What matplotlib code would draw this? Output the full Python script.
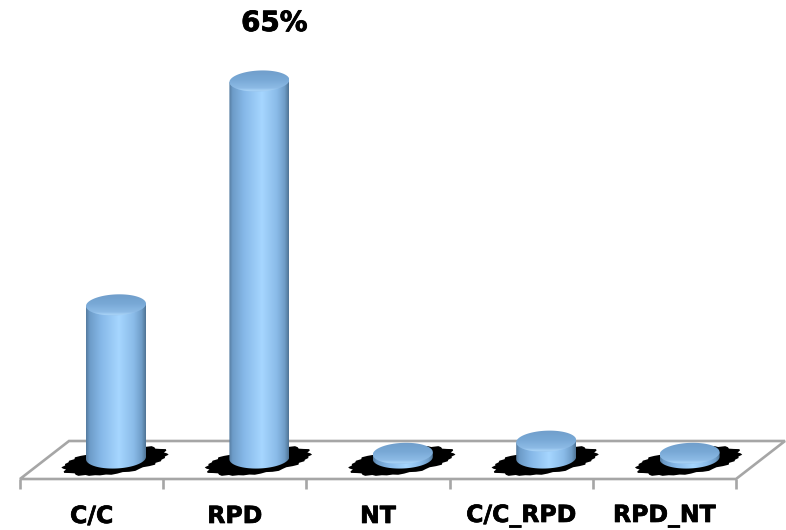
import numpy as np
import matplotlib
matplotlib.use('Agg')
import matplotlib.pyplot as plt
import matplotlib.patheffects as pe
from matplotlib.colors import LinearSegmentedColormap
from matplotlib.patches import PathPatch, Polygon
from matplotlib.path import Path

# Values (percent)
categories = ['C/C', 'RPD', 'NT', 'C/C_RPD', 'RPD_NT']
values = [26.4, 65, 0.8, 2.9, 0.8]
value_labels = ['', '65%', '', '', '']

# scale of the picture: px per category / px per percent
PX_X = 143.4
PX_Y = 5.8
X0_PX = 116
Y0_PX = 458


def dx(px):
    return px / PX_X


def dy(px):
    return px / PX_Y


side_cmap = LinearSegmentedColormap.from_list('side', [
    (0.0, '#557b9f'), (0.06, '#6d9cc8'), (0.25, '#86b8e8'), (0.55, '#a6d6ff'),
    (0.8, '#8abbe8'), (0.93, '#6f9dc8'), (1.0, '#4f7494')])
top_cmap = LinearSegmentedColormap.from_list('top', [
    (0.0, '#8fbde8'), (0.1, '#a8d2f6'), (0.2, '#8dbbe6'), (0.55, '#79a9d6'), (1.0, '#6f9dca')])

fig = plt.figure(figsize=(7.86, 5.3), dpi=100)
ax = fig.add_axes([0, 0, 1, 1])
ax.axis('off')
xlim = (dx(-X0_PX), dx(786 - X0_PX))
ylim = (dy(458 - 530), dy(458))

# floor of the 3d chart
n = len(categories)
left, right = dx(20 - X0_PX), dx(736 - X0_PX)
front = dy(458 - 479)
back = dy(458 - 441)
skew = dx(49)
grey = '#a6a6a6'
ax.add_patch(Polygon([(left, front), (right, front), (right + skew, back), (left + skew, back)],
                     closed=True, fc='white', ec=grey, lw=1.9, zorder=1))
edges = left + (right - left) * np.arange(n + 1) / n
centers = (edges[:-1] + edges[1:]) / 2
ax.vlines(edges, dy(458 - 489), front, color=grey, lw=1.9, zorder=1)

# jagged outline of the shadow, repeated for each bar
jag = [1.0, 0.97, 1.03, 1.0, 0.95, 1.02, 1.05, 0.98, 0.94, 1.0, 1.04, 0.96, 1.01, 0.97]
half_w, half_h = 60 / 2, 21 / 2
tilt = 0.04  # the ellipses lean up to the right

for i, v in enumerate(values):
    # shadow
    t = np.linspace(0, 2 * np.pi, 56, endpoint=False)
    r = np.array([jag[k % len(jag)] for k in range(56)])
    sx = r * (50 * np.cos(t) + 15 * np.sin(t))
    sy = r * 13.5 * np.sin(t) + 0.06 * sx - 3
    ax.add_patch(Polygon(np.column_stack([i + dx(sx - 1), dy(sy)]), closed=True,
                         fc='black', ec='none', zorder=2))

    # side of the cylinder, round at the bottom
    w = dx(half_w)
    h = dy(half_h)
    lean = dy(half_w * tilt)
    a = np.linspace(np.pi, 2 * np.pi, 40)
    c = np.cos(a)
    verts = [(i - w, v - lean)] + list(zip(i + w * c, h * np.sin(a) + lean * c))
    verts += [(i + w, v + lean), (i - w, v - lean)]
    body = PathPatch(Path(verts), fc='none', ec='none', transform=ax.transData)
    ax.add_patch(body)
    im = ax.imshow(np.linspace(0, 1, 256).reshape(1, -1), cmap=side_cmap, aspect='auto',
                   extent=(i - w, i + w, -h - lean, v + lean), zorder=3)
    im.set_clip_path(body)

    # top of the cylinder
    a = np.linspace(0, 2 * np.pi, 80)
    c = np.cos(a)
    top = PathPatch(Path(np.column_stack([i + w * c, v + h * np.sin(a) + lean * c])),
                    fc='none', ec='none', transform=ax.transData)
    ax.add_patch(top)
    im = ax.imshow(np.linspace(0, 1, 64).reshape(-1, 1), cmap=top_cmap, aspect='auto',
                   extent=(i - w, i + w, v - h - lean, v + h + lean), origin='lower', zorder=4)
    im.set_clip_path(top)

    if value_labels[i]:
        ax.text(i + dx(15), v + dy(58), value_labels[i], ha='center', va='center',
                fontsize=20, fontweight='bold', color='black', zorder=5,
                path_effects=[pe.withStroke(linewidth=0.6, foreground='black')])

    ax.text(centers[i], dy(458 - 516), categories[i], ha='center', va='center',
            fontsize=17, fontweight='bold', color='black', zorder=5,
            path_effects=[pe.withStroke(linewidth=0.5, foreground='black')])

ax.set_xlim(xlim)
ax.set_ylim(ylim)
fig.savefig('out.png', dpi=100)
